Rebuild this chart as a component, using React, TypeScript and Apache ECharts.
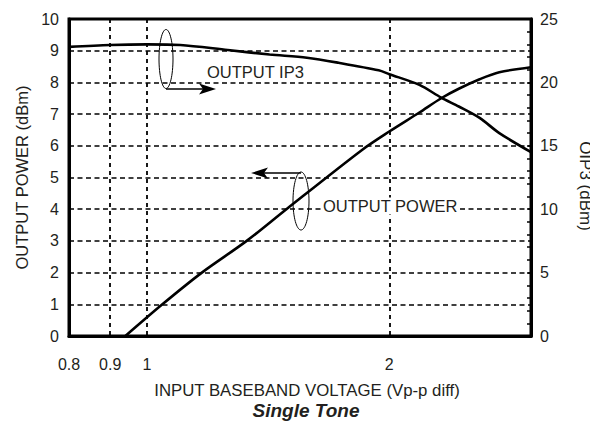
import React, { useEffect, useRef } from "react";
import * as echarts from "echarts";

// X tick values (V p-p diff), log-spaced axis
const xTicks = [0.8, 0.9, 1, 2];
const xMin = 0.8;
const xMax = 3;

// OUTPUT POWER (dBm, left axis)
const powerV = [0.94, 1.045, 1.17, 1.33, 1.49, 1.85, 2.0, 2.18, 2.32, 2.44, 2.59, 2.74, 3.0];
const powerVals = [0, 1, 2, 3, 4, 5.87, 6.45, 7.05, 7.5, 7.8, 8.1, 8.32, 8.48];

// OUTPUT IP3 (dBm, right axis)
const ip3V = [0.8, 0.9, 1.0, 1.1, 1.26, 1.42, 1.58, 1.73, 1.94, 2.0, 2.18, 2.32, 2.44, 2.59, 2.74, 3.0];
const ip3Vals = [22.8, 22.95, 23.0, 22.95, 22.55, 22.2, 21.95, 21.55, 20.95, 20.65, 19.8, 18.8, 18.1, 17.2, 16.0, 14.5];

const FONT = "'Liberation Sans', Arial, Helvetica, sans-serif";
const TXT = "#231f20";

export default function App() {
  const ref = useRef<HTMLDivElement>(null);

  useEffect(() => {
    if (!ref.current) return;
    const chart = echarts.init(ref.current, undefined, { renderer: "svg" });
    const lg = (v: number) => Math.log10(v);
    const dashed = { color: "#000", width: 1.6, type: [5, 3.5] as any };
    const dotted = { color: "#000", width: 1.8, type: [4, 4] as any };

    chart.setOption({
      animation: false,
      backgroundColor: "#fff",
      textStyle: { fontFamily: FONT },
      grid: {
        left: 69,
        right: 67,
        top: 19,
        bottom: 93,
        show: true,
        borderColor: "#000",
        borderWidth: 3,
        outerBoundsMode: "none",
      },
      xAxis: {
        type: "value",
        min: lg(xMin),
        max: lg(xMax),
        name: "INPUT BASEBAND VOLTAGE (Vp-p diff)",
        nameLocation: "middle",
        nameGap: 46,
        nameTextStyle: { fontSize: 16.8, color: TXT, fontFamily: FONT, padding: [0, 0, 0, 14] },
        axisLine: { show: true, onZero: false, lineStyle: { color: "#000", width: 3 } },
        axisTick: { show: false, customValues: xTicks.map(lg) },
        axisLabel: {
          customValues: xTicks.map(lg),
          fontSize: 16,
          color: TXT,
          fontFamily: FONT,
          margin: 20,
          formatter: (v: number) => String(+Math.pow(10, v).toFixed(2)),
        },
        splitLine: { show: true, lineStyle: dotted },
      },
      yAxis: [
        {
          type: "value",
          min: 0,
          max: 10,
          interval: 1,
          position: "left",
          name: "OUTPUT POWER (dBm)",
          nameLocation: "middle",
          nameRotate: 90,
          nameGap: 39,
          nameTextStyle: { fontSize: 16.5, color: TXT, fontFamily: FONT },
          axisLine: { show: true, onZero: false, lineStyle: { color: "#000", width: 3 } },
          axisTick: { show: false },
          axisLabel: { fontSize: 16, color: TXT, fontFamily: FONT, margin: 10 },
          splitLine: { show: true, lineStyle: dashed },
        },
        {
          type: "value",
          min: 0,
          max: 25,
          interval: 5,
          position: "right",
          axisLine: { show: true, onZero: false, lineStyle: { color: "#000", width: 3 } },
          axisTick: { show: true, inside: true, length: 4, lineStyle: { color: "#000", width: 1.5 } },
          minorTick: { show: true, splitNumber: 5, length: 4, lineStyle: { color: "#000", width: 1.5 } },
          axisLabel: { fontSize: 16, color: TXT, fontFamily: FONT, margin: 9 },
          splitLine: { show: false },
        },
      ],
      series: [
        {
          name: "OUTPUT POWER",
          type: "line",
          yAxisIndex: 0,
          data: powerV.map((v, i) => [lg(v), powerVals[i]]),
          symbol: "none",
          smooth: 0.3,
          lineStyle: { color: "#000", width: 2.6 },
          z: 5,
        },
        {
          name: "OUTPUT IP3",
          type: "line",
          yAxisIndex: 1,
          data: ip3V.map((v, i) => [lg(v), ip3Vals[i]]),
          symbol: "none",
          smooth: 0.3,
          lineStyle: { color: "#000", width: 2.6 },
          z: 5,
        },
      ],
      graphic: [
        // right axis title
        {
          type: "text",
          x: 585,
          y: 186,
          rotation: -Math.PI / 2,
          style: {
            text: "OIP3 (dBm)",
            font: `17px ${FONT}`,
            fill: TXT,
            verticalAlign: "middle",
            align: "center",
          },
        },
        // OUTPUT IP3 annotation
        {
          type: "ellipse",
          shape: { cx: 166, cy: 59, rx: 7, ry: 29.5 },
          style: { fill: "none", stroke: "#000", lineWidth: 1 },
          z: 10,
        },
        {
          type: "line",
          shape: { x1: 166, y1: 89, x2: 205, y2: 89 },
          style: { stroke: "#000", lineWidth: 1.6 },
          z: 10,
        },
        {
          type: "polygon",
          shape: { points: [[216, 89], [199, 83.5], [203, 89], [199, 94.5]] },
          style: { fill: "#000" },
          z: 10,
        },
        {
          type: "text",
          x: 207,
          y: 72,
          style: {
            text: "OUTPUT IP3",
            font: `16.5px ${FONT}`,
            fill: TXT,
            verticalAlign: "middle",
            align: "left",
          },
          z: 10,
        },
        // OUTPUT POWER annotation
        {
          type: "ellipse",
          shape: { cx: 301, cy: 201, rx: 8, ry: 29 },
          style: { fill: "none", stroke: "#000", lineWidth: 1 },
          z: 10,
        },
        {
          type: "line",
          shape: { x1: 301, y1: 173, x2: 262, y2: 173 },
          style: { stroke: "#000", lineWidth: 1.6 },
          z: 10,
        },
        {
          type: "polygon",
          shape: { points: [[251, 173], [268, 167.5], [264, 173], [268, 178.5]] },
          style: { fill: "#000" },
          z: 10,
        },
        {
          type: "text",
          x: 321,
          y: 206,
          style: {
            text: "OUTPUT POWER",
            font: `16.5px ${FONT}`,
            fill: TXT,
            verticalAlign: "middle",
            align: "left",
            backgroundColor: "#fff",
            padding: [0, 2, 0, 2],
          },
          z: 10,
        },
        // subtitle
        {
          type: "text",
          x: 306,
          y: 410,
          style: {
            text: "Single Tone",
            font: `italic bold 19px ${FONT}`,
            fill: TXT,
            verticalAlign: "middle",
            align: "center",
          },
          z: 10,
        },
      ],
    });

    return () => chart.dispose();
  }, []);

  return <div ref={ref} style={{ width: 598, height: 429, margin: -8 }} />;
}
